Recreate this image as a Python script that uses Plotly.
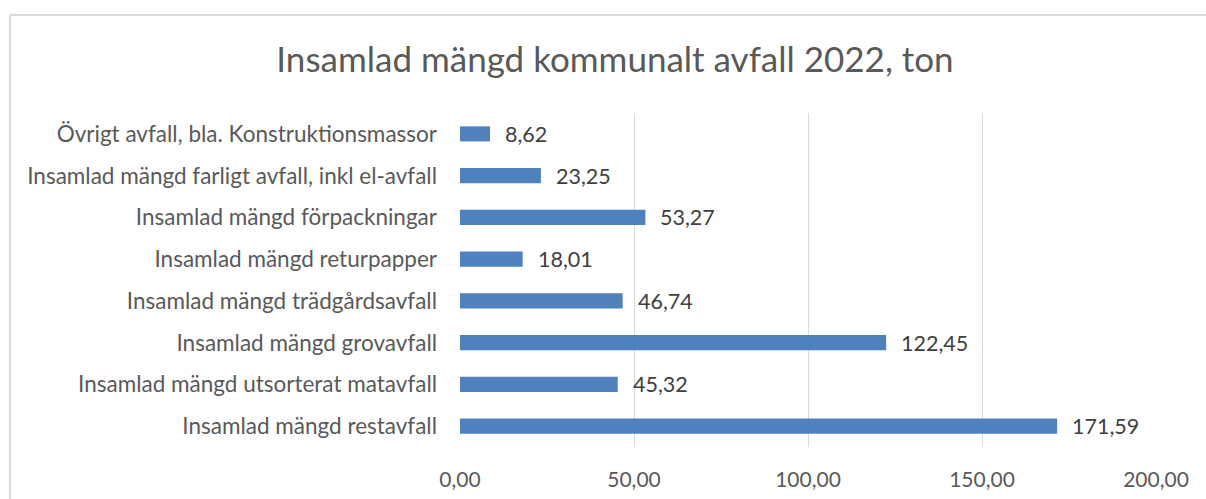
import plotly.graph_objects as go

categories = [
    "Övrigt avfall, bla. Konstruktionsmassor",
    "Insamlad mängd farligt avfall, inkl el-avfall",
    "Insamlad mängd förpackningar",
    "Insamlad mängd returpapper",
    "Insamlad mängd trädgårdsavfall",
    "Insamlad mängd grovavfall",
    "Insamlad mängd utsorterat matavfall",
    "Insamlad mängd restavfall",
]
values = [8.62, 23.25, 53.27, 18.01, 46.74, 122.45, 45.32, 171.59]
tick_vals = [0, 50, 100, 150, 200]
tick_text = ["0,00", "50,00", "100,00", "150,00", "200,00"]

def fmt(v):
    return f"{v:.2f}".replace(".", ",")

FONT = "Lato"
W, H = 1206, 499
L, R, T, B = 460, 50, 113, 52
PW, PH = W - L - R, H - T - B

fig = go.Figure(go.Bar(
    y=categories, x=values, orientation="h",
    marker=dict(color="#4F81BD", line=dict(width=0)),
    width=0.36, hoverinfo="skip",
))

for c, v in zip(categories, values):
    fig.add_annotation(x=v, y=c, text=fmt(v), showarrow=False, xanchor="left",
                       xshift=13, font=dict(family=FONT, size=21.5, color="#404040"))

bx = (10 - L) / PW
by = 1 + (T - 15) / PH
fig.update_layout(
    width=W, height=H,
    margin=dict(l=L, r=R, t=T, b=B, autoexpand=False),
    paper_bgcolor="white", plot_bgcolor="white",
    showlegend=False,
    title=dict(text="Insamlad mängd kommunalt avfall 2022, ton", x=615/W, xanchor="center",
               y=1 - 60/H, yanchor="middle",
               font=dict(family=FONT, size=35, color="#595959")),
    xaxis=dict(range=[0, 200], tickvals=tick_vals, ticktext=tick_text, automargin=False,
               showgrid=True, gridcolor="#D9D9D9", gridwidth=1.3, zeroline=False,
               showline=False, ticklabelstandoff=18,
               tickfont=dict(family=FONT, size=21, color="#595959")),
    yaxis=dict(autorange="reversed", showgrid=False, zeroline=False, showline=False,
               automargin=False, ticklabelstandoff=22,
               tickfont=dict(family=FONT, size=22.5, color="#595959")),
    shapes=[
        dict(type="line", xref="paper", yref="paper", x0=bx, x1=1.2, y0=by, y1=by,
             line=dict(color="#D9D9D9", width=2)),
        dict(type="line", xref="paper", yref="paper", x0=bx, x1=bx, y0=by, y1=-0.5,
             line=dict(color="#D9D9D9", width=2)),
    ],
)
fig.write_html("out.html", config={"displayModeBar": False},
               post_script="document.body.style.margin='0px';document.body.style.overflow='hidden';")
